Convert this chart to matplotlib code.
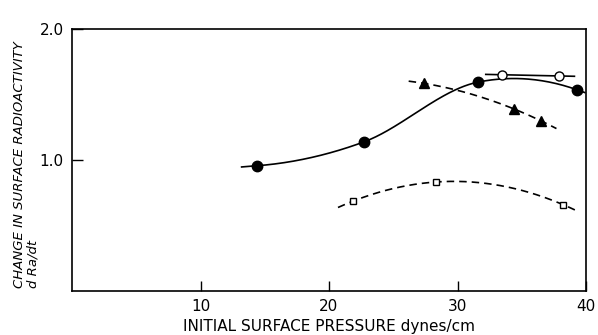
import matplotlib
matplotlib.use('Agg')
import matplotlib.pyplot as plt
from matplotlib.ticker import NullLocator, FixedLocator, FixedFormatter
import numpy as np

plt.rcParams['font.family'] = ['DejaVu Sans']

# data (x in dynes/cm, y = d Ra/dt)
filled_x = [14.4, 22.7, 31.6, 39.3]
filled_y = [0.97, 1.10, 1.51, 1.45]
open_x = [33.5, 37.9]
open_y = [1.57, 1.56]
tri_x = [27.4, 34.4, 36.5]
tri_y = [1.50, 1.31, 1.23]
sq_x = [21.9, 28.3, 38.2]
sq_y = [0.805, 0.89, 0.79]

# extent of each drawn curve
filled_span = (13.2, 39.9)
open_span = (32.2, 39.1)
tri_span = (26.2, 37.7)
sq_span = (20.7, 39.2)


def smooth(xs, ys, span, deg):
    # polynomial through the points in log space, drawn over the span
    c = np.polyfit(xs, np.log(ys), deg)
    xx = np.linspace(span[0], span[1], 200)
    return xx, np.exp(np.polyval(c, xx))


def hermite(xs, ys, span):
    # cubic hermite through the points (log space), straight ends outside
    xs = np.asarray(xs, float)
    ly = np.log(ys)
    m = np.gradient(ly, xs, edge_order=2)
    xx = np.linspace(span[0], span[1], 300)
    out = np.empty_like(xx)
    for i, x in enumerate(xx):
        if x <= xs[0]:
            out[i] = ly[0] + m[0] * (x - xs[0])
        elif x >= xs[-1]:
            out[i] = ly[-1] + m[-1] * (x - xs[-1])
        else:
            k = np.searchsorted(xs, x) - 1
            h = xs[k + 1] - xs[k]
            t = (x - xs[k]) / h
            out[i] = ((2*t**3 - 3*t**2 + 1) * ly[k] + (t**3 - 2*t**2 + t) * h * m[k]
                      + (-2*t**3 + 3*t**2) * ly[k + 1] + (t**3 - t**2) * h * m[k + 1])
    return xx, np.exp(out)


fig = plt.figure(figsize=(5.98, 3.35), dpi=100)
ax = fig.add_axes([72 / 598, 1 - 291 / 335, (586 - 72) / 598, (291 - 29) / 335])

lw = 1.2
xx, yy = hermite(filled_x, filled_y, filled_span)
ax.plot(xx, yy, color='black', lw=lw)
ax.plot(filled_x, filled_y, 'o', color='black', ms=7.5)

xx, yy = smooth(open_x, open_y, open_span, 1)
ax.plot(xx, yy, color='black', lw=lw)
ax.plot(open_x, open_y, 'o', mfc='white', mec='black', mew=1.0, ms=6.5)

xx, yy = smooth(tri_x, tri_y, tri_span, 2)
ax.plot(xx, yy, color='black', lw=lw, dashes=(4.5, 3))
ax.plot(tri_x, tri_y, '^', color='black', ms=6.5)

xx, yy = smooth(sq_x, sq_y, sq_span, 2)
ax.plot(xx, yy, color='black', lw=lw, dashes=(4.5, 3))
ax.plot(sq_x, sq_y, 's', mfc='white', mec='black', mew=1.0, ms=5)

ax.set_yscale('log')
ax.set_xlim(0, 40)
ax.set_ylim(0.5, 2.0)
ax.yaxis.set_major_locator(FixedLocator([1.0, 2.0]))
ax.yaxis.set_major_formatter(FixedFormatter(['1.0', '2.0']))
ax.yaxis.set_minor_locator(NullLocator())
ax.set_xticks([10, 20, 30, 40])
ax.tick_params(axis='x', direction='in', length=7, width=1, labelsize=11, pad=6)
ax.tick_params(axis='y', direction='in', length=8, width=1, labelsize=11, pad=6)
for s in ax.spines.values():
    s.set_linewidth(1.2)

ax.set_xlabel('INITIAL SURFACE PRESSURE dynes/cm', fontsize=11, labelpad=3)
fig.text(0.022, 1 - 288 / 335, 'CHANGE IN SURFACE RADIOACTIVITY\nd Ra/dt',
         rotation=90, ha='left', va='bottom', multialignment='left',
         fontsize=9.5, style='italic', linespacing=1.0)

fig.savefig('out.png', dpi=100)
